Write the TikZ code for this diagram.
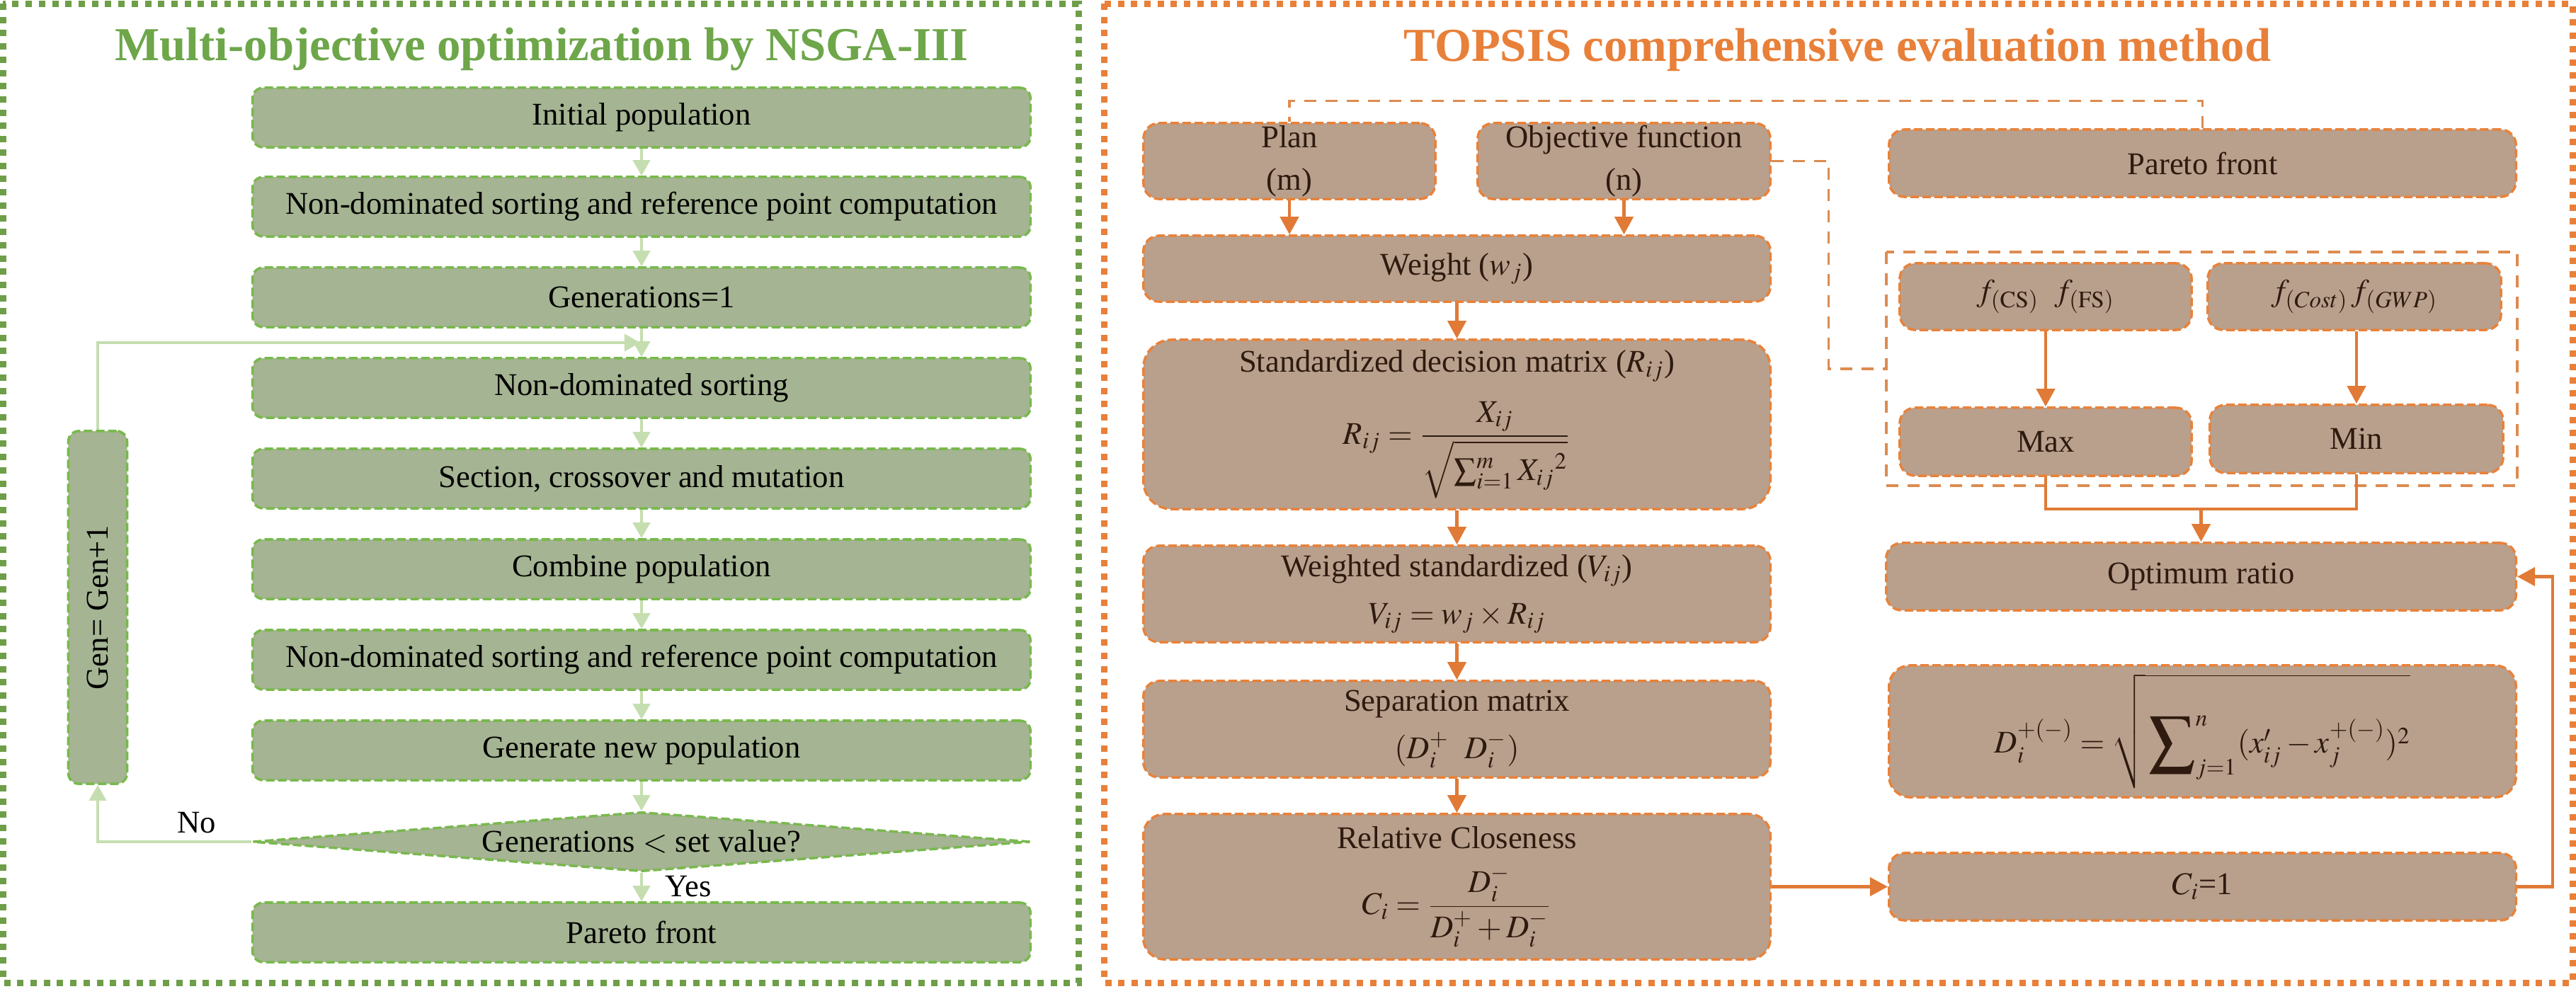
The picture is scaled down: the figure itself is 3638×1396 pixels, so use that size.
\documentclass[tikz,border=0pt]{standalone}
\usepackage{amsmath}
\usepackage{mathptmx}
\usepackage{fontspec}
\setmainfont{Liberation Serif}
\newfontfamily\tnr{Liberation Serif}
\usepackage{graphicx}
\usetikzlibrary{arrows.meta,shapes.geometric}
\definecolor{gfill}{HTML}{A5B492}
\definecolor{gline}{HTML}{78B94C}
\definecolor{garr}{HTML}{C5DEB0}
\definecolor{gtitle}{HTML}{6EA64A}
\definecolor{gpanel}{HTML}{6E9E48}
\definecolor{ofill}{HTML}{B9A08D}
\definecolor{oline}{HTML}{E8823A}
\definecolor{oarr}{HTML}{E07A36}
\definecolor{odashc}{HTML}{DD8B50}
\definecolor{otitle}{HTML}{E8803A}
\definecolor{opanel}{HTML}{E8803A}
\definecolor{otext}{HTML}{2E1A0E}
\newcommand\bodyfont{\tnr\fontsize{12.7}{15}\selectfont}
\newcommand\titlefont{\tnr\fontsize{19}{23}\selectfont\bfseries}
\newcommand\bigsum{\mathop{\vcenter{\hbox{\scalebox{1.45}{$\displaystyle\sum$}}}}\nolimits}
\begin{document}
\begin{tikzpicture}[x=0.01cm,y=-0.01cm,
  gbox/.style={draw=gline, fill=gfill, rounded corners=0.15cm, line width=1pt,
    dash pattern=on 0.12cm off 0.05cm, minimum width=10.98cm, minimum height=0.84cm,
    inner sep=0pt, align=center, font=\bodyfont, text=black},
  gdia/.style={diamond, aspect=13, draw=gline, fill=gfill, line width=1pt,
    dash pattern=on 0.12cm off 0.05cm, minimum width=10.98cm, minimum height=0.84cm,
    inner sep=0pt, align=center, font=\bodyfont, text=black},
  garrow/.style={draw=garr, line width=1.1pt, -{Triangle[length=0.22cm,width=0.24cm,fill=garr]}},
  obox/.style={draw=oline, fill=ofill, rounded corners=0.22cm, line width=1pt,
    dash pattern=on 0.12cm off 0.05cm, inner sep=0pt, align=center, font=\bodyfont, text=otext},
  oarrow/.style={draw=oarr, line width=1.2pt, -{Triangle[length=0.25cm,width=0.26cm,fill=oarr]}},
  oline/.style={draw=oarr, line width=1.2pt},
  odash/.style={draw=odashc, line width=0.9pt, dash pattern=on 0.17cm off 0.13cm},
  panel/.style={line width=0.09cm, dash pattern=on 0.09cm off 0.097cm},
  lbl/.style={font=\bodyfont, text=black, inner sep=0pt}
]
\useasboundingbox (0,0) rectangle (3638,1396);
% panels
\draw[panel, draw=gpanel] (4,5) rectangle (1523,1388);
\draw[panel, draw=opanel] (1559,5) rectangle (3633,1388);
% titles
\node[font=\titlefont, text=gtitle] (t1) at (765,70) {Multi-objective optimization by NSGA-III};
\node[font=\titlefont, text=otitle] (t2) at (2595,70) {TOPSIS comprehensive evaluation method};
% left flow
\node[gbox] (b1) at (906,166) {Initial population};
\node[gbox] (b2) at (906,292) {Non-dominated sorting and reference point computation};
\node[gbox] (b3) at (906,420) {Generations=1};
\node[gbox] (b4) at (906,548) {Non-dominated sorting};
\node[gbox] (b5) at (906,676) {Section, crossover and mutation};
\node[gbox] (b6) at (906,804) {Combine population};
\node[gbox] (b7) at (906,932) {Non-dominated sorting and reference point computation};
\node[gbox] (b8) at (906,1060) {Generate new population};
\node[gdia] (dia) at (906,1189) {Generations $<$ set value?};
\node[gbox] (b9) at (906,1317) {Pareto front};
\node[gbox, minimum width=0.83cm, minimum height=4.98cm] (gen) at (138,858) {\rotatebox{90}{Gen= Gen+1}};
\draw[garrow] (b1) -- (b2);
\draw[garrow] (b2) -- (b3);
\draw[garrow] (b3) -- (b4);
\draw[garrow] (b4) -- (b5);
\draw[garrow] (b5) -- (b6);
\draw[garrow] (b6) -- (b7);
\draw[garrow] (b7) -- (b8);
\draw[garrow] (b8) -- (dia);
\draw[garrow] (dia) -- (b9);
\draw[garrow] (dia.west) -| (gen.south);
\coordinate (join) at (904,484);
\draw[garrow] (gen.north) |- (join);
\node[lbl] (no) at (278,1162) {No};
\node[lbl] (yes) at (972,1252) {Yes};
% right flow
\node[obox, minimum width=4.12cm, minimum height=1.07cm] (plan) at (1821,227.5) {Plan\\[2pt](m)};
\node[obox, minimum width=4.13cm, minimum height=1.07cm] (obj) at (2293.5,227.5) {Objective function\\[2pt](n)};
\node[obox, minimum width=8.85cm, minimum height=0.93cm] (weight) at (2057.5,379.5) {Weight ($w_j$)};
\node[obox, minimum width=8.85cm, minimum height=2.39cm, rounded corners=0.4cm] (stand) at (2057.5,599.5)
  {Standardized decision matrix ($R_{ij}$)\\[7pt]
   $R_{ij}=\dfrac{X_{ij}}{\sqrt{\sum_{i=1}^{m}{X_{ij}}^{2}}}$};
\node[obox, minimum width=8.85cm, minimum height=1.36cm] (wstd) at (2057.5,839)
  {Weighted standardized ($V_{ij}$)\\[4pt] $V_{ij}=w_j\times R_{ij}$};
\node[obox, minimum width=8.85cm, minimum height=1.36cm] (sep) at (2057.5,1030)
  {Separation matrix\\[4pt] $(D_i^{+}\ \ D_i^{-})$};
\node[obox, minimum width=8.85cm, minimum height=2.05cm, rounded corners=0.3cm] (rel) at (2057.5,1252.5)
  {Relative Closeness\\[6pt] $C_i=\dfrac{D_i^{-}}{D_i^{+}+D_i^{-}}$};
\node[obox, minimum width=8.85cm, minimum height=0.95cm] (pareto) at (3110.5,230.5) {Pareto front};
\draw[odash] (2664,356) rectangle (3555,686);
\coordinate (groupw) at (2664,521);
\node[obox, minimum width=4.12cm, minimum height=0.94cm] (fcs) at (2889,419) {$f_{(\mathrm{CS})}\ \ f_{(\mathrm{FS})}$};
\node[obox, minimum width=4.14cm, minimum height=0.94cm] (fcost) at (3325,419) {$f_{(Cost)}\, f_{(GWP)}$};
\node[obox, minimum width=4.12cm, minimum height=0.96cm] (max) at (2889,624) {Max};
\node[obox, minimum width=4.14cm, minimum height=0.96cm] (min) at (3328,620) {Min};
\node[obox, minimum width=8.89cm, minimum height=0.95cm] (opt) at (3108.5,814.5) {Optimum ratio};
\node[obox, minimum width=8.85cm, minimum height=1.86cm, rounded corners=0.3cm] (dform) at (3110.5,1033)
  {$D_i^{+(-)}=\sqrt{\rule[-0.42cm]{0pt}{1.4cm}\bigsum_{j=1}^{n}(x'_{ij}-x_j^{+(-)})^2}$};
\node[obox, minimum width=8.85cm, minimum height=0.95cm] (ci) at (3110.5,1252.5) {$C_i$=1};
% right connectors
\draw[oarrow] (plan.south) -- (plan.south |- weight.north);
\draw[oarrow] (obj.south) -- (obj.south |- weight.north);
\draw[oarrow] (weight) -- (stand);
\draw[oarrow] (stand) -- (wstd);
\draw[oarrow] (wstd) -- (sep);
\draw[oarrow] (sep) -- (rel);
\draw[oarrow] (rel.east) -- (ci.west);
\draw[oarrow] (fcs.south) -- (fcs.south |- max.north);
\draw[oarrow] (min.north |- fcost.south) -- (min.north);
\coordinate (merge) at (3108.5,719);
\draw[oline] (max.south) |- (merge) -| (min.south);
\draw[oarrow] (merge) -- (opt.north);
\draw[oarrow] (ci.east) -- ++(50,0) |- (opt.east);
\draw[odash] (pareto.north) -- ++(0,-39) -| (plan.north);
\draw[odash] (obj.east) -- ++(81,0) |- (groupw);
\end{tikzpicture}
\end{document}
